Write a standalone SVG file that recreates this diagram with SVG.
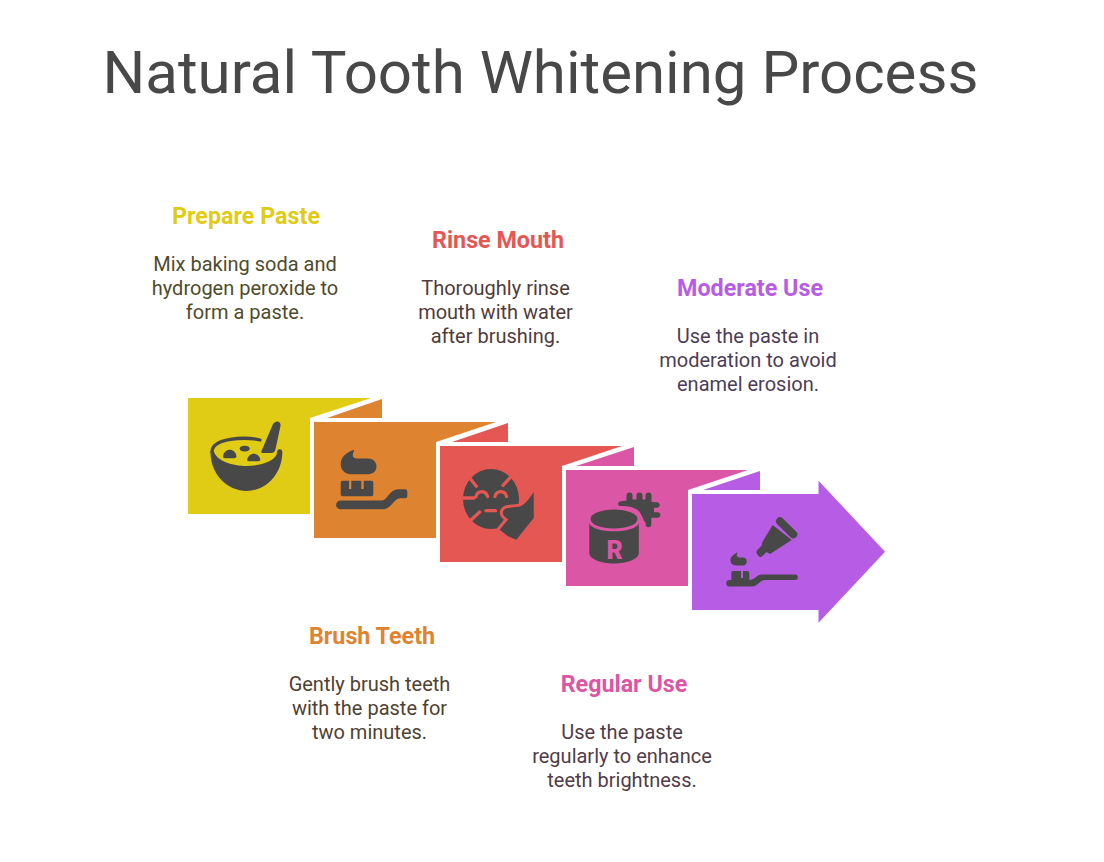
<svg xmlns="http://www.w3.org/2000/svg" width="1104" height="862" viewBox="0 0 1104 862">
<style>
text{font-family:Roboto,"Liberation Sans",sans-serif;text-anchor:middle}
.title{font-size:60px;fill:#484848;text-anchor:start}
.h{font-size:23.3px;font-weight:700}
.d{font-size:20px}
.i{fill:#484848}
.yf{fill:#e0cb15}.of{fill:#de8431}.rf{fill:#e55753}.pf{fill:#db56a5}.vf{fill:#b75ce5}
.rs{fill:none;stroke:#e55753;stroke-width:3.3;stroke-linecap:round}
</style>
<rect width="1104" height="862" fill="#ffffff"/>
<text class="title" x="102.5" y="93">Natural Tooth Whitening Process</text>
<g id="connectors"/>
<g id="step-prepare">
<polygon class="yf" points="188,398 371,398 310,418 310,514 188,514"/>
<g class="i">
<path d="M210.5,452C211,450 213,450 214.5,453C218,461 232,466 246.7,466C261,466 274,461 276.7,454.3C277,451 277.5,449.5 279,449.3C281,449 282.3,450 282.3,452C282.3,475 265,491 246.7,491C228,491 210.5,475 210.5,452Z"/>
<path d="M260,440C245,436.5 212,438 212,452" fill="none" stroke="#484848" stroke-width="3.3" stroke-linecap="round"/>
<path d="M261.5,451L273,424Q275,421 278,421.5Q281,422.5 280.5,426L275.3,450Q274.5,453 271,453L263,453Q260.5,453 261.5,451Z"/>
<path d="M223,456.5C223.5,452 226.5,449.7 229.7,449.7C233,449.7 236,452 236.4,456.5Q236.5,458.3 234,458.3L225,458.3Q223,458.3 223,456.5Z"/>
<ellipse cx="244.7" cy="448.6" rx="5" ry="2.9"/>
<path d="M247.3,459.5C248,456 250.5,453.7 253.8,453.7C257,453.7 259.7,456 260.3,459.5Q260.5,461.3 258.5,461.3L249,461.3Q247,461.3 247.3,459.5Z"/>
</g>
</g>
<g id="step-brush">
<polygon class="of" points="327,418 382,399 382,418"/>
<polygon class="of" points="314,422 496,422 436,442 436,538 314,538"/>
<g class="i">
<path d="M353.7,449.7C348,452 340.7,456 340.7,464C340.7,471 346,474.3 352,474.3L368,474.3C374,474.3 376.5,470 376.5,466.5C376.5,462 373,458.5 368,458.5L358,458.5C353,458.5 351.5,456 354,451Z"/>
<path d="M342.7,480.7L349,480.7L349,489L351.3,489L351.3,480.7L361.3,480.7L361.3,489L363.7,489L363.7,480.7L371.5,480.7Q373.3,480.7 373.3,482.5L373.3,494.5Q373.3,496.3 371.5,496.3L342.7,496.3Q340.7,496.3 340.7,494.5L340.7,482.5Q340.7,480.7 342.7,480.7Z"/>
<path d="M340.5,500.5L382,500.5C387,500.5 390,489.3 398,489.3L405,489.3Q407.3,489.3 407.3,491L407.3,496.5Q407.3,498.3 405,498.3L400,498.3C394,498.3 391,509.3 383,509.3L340.5,509.3A4.4,4.4 0 0 1 340.5,500.5Z"/>
</g>
</g>
<g id="step-rinse">
<polygon class="rf" points="452,442 508,423 508,442"/>
<polygon class="rf" points="440,446 622,446 562,466 562,562 440,562"/>
<ellipse class="i" cx="491" cy="499" rx="28" ry="30"/>
<path class="rs" d="M469.7,478L476.3,486.3M511.3,476.3L503,485.3M463,498L474,498M471.3,519.7L479.7,512M486,510.7L495.6,510.7M476,496.5C477.5,490 486,490 487.5,496.5M495,496.5C496.5,490 505,490 506.5,496.5"/>
<path class="i" d="M503,511.5C504,509 506,508.3 508,508C513,507.3 518,507 521.3,506C526,503 530,498 533.7,492L533.7,518L516.3,539.7L508,536.3L499.7,529.7L508.5,519C505,518 502,514.5 503,511.5Z" stroke="#e55753" stroke-width="6" stroke-linejoin="round" paint-order="stroke"/>
</g>
<g id="step-regular">
<polygon class="pf" points="576,466 634,447 634,466"/>
<polygon class="pf" points="566,470 748,470 688,490 688,586 566,586"/>
<g class="i">
<path d="M619.5,501.5L626.5,500.5L626.5,495.5A3,3 0 0 1 632.5,495.5L632.5,499.5L636.5,499.5L636.5,495.5A3,3 0 0 1 642.5,495.5L642.5,499.5L645.5,499.5L645.5,495.5A3,3 0 0 1 651.5,495.5L651.5,502L657.5,502.3A2.8,2.8 0 0 1 657.5,507.8L654,507.8L654,512.2L657.5,512.2A2.8,2.8 0 0 1 657.5,517.8L651.3,517.8L651.3,524.5A2.8,2.8 0 0 1 645.7,524.5L645.5,522.5C643.5,521.5 643,517 640,512.5C636,507 628,505.5 619.5,506Q616.5,503.5 619.5,501.5Z"/>
<ellipse cx="614" cy="519" rx="23.5" ry="9.5"/>
<path d="M589.3,523.3C593,534 635,534 638.8,523.3L638.8,553C638.8,559 627,563.5 614,563.5C601,563.5 589.3,559 589.3,553Z"/>
</g>
<text x="614.7" y="559.3" style="font-size:25px;font-weight:900" fill="#db56a5">R</text>
</g>
<g id="step-moderate">
<polygon class="vf" points="703,490 760,471 760,490"/>
<polygon class="vf" points="692,494 818.5,494 818.5,480.7 885,551.7 818.5,622.7 818.5,610 692,610"/>
<g class="i">
<path d="M780,521.3L793.3,534.3" fill="none" stroke="#484848" stroke-width="8" stroke-linecap="round"/>
<path d="M772.7,525L791.7,540L770,554L766.5,552L762.5,556Q760,558 758,555.5L756.8,553.5Q755.8,551.5 757.5,549.8L761.7,545.5L762.5,541.7Z"/>
<path d="M737,552.5C733,555 730,557 730.5,561C731,564.5 734,565.5 737,565.5L743,565.5C748,565.5 748,557.5 743,557.5L739.5,557.5C737,557.5 736,555 737.5,553Z"/>
<path d="M733,571L741,571L741,578L743,578L743,571L747,571Q749.3,571 749.3,573L749.3,581L731.3,581L731.3,573Q731.3,571 733,571Z"/>
<path d="M729.5,580L750,580C755,579.5 757,574.5 762,574.5L795,574.5A2.75,2.75 0 0 1 795,580L765,580C760,580 758,586.5 752,586.5L729.5,586.5A3.25,3.25 0 0 1 729.5,580Z"/>
</g>
</g>
<g id="label-prepare">
<text class="h" x="246" y="224" fill="#e0cb15">Prepare Paste</text>
<g class="d" fill="#4e4c2c"><text x="245" y="271">Mix baking soda and</text><text x="245" y="295">hydrogen peroxide to</text><text x="245" y="319">form a paste.</text></g>
</g>
<g id="label-rinse">
<text class="h" x="498" y="248" fill="#e55753">Rinse Mouth</text>
<g class="d" fill="#503c3b"><text x="495.5" y="295">Thoroughly rinse</text><text x="495.5" y="319">mouth with water</text><text x="495.5" y="343">after brushing.</text></g>
</g>
<g id="label-moderate">
<text class="h" x="750" y="296" fill="#b75ce5">Moderate Use</text>
<g class="d" fill="#4c3d57"><text x="748" y="343">Use the paste in</text><text x="748" y="367">moderation to avoid</text><text x="748" y="391">enamel erosion.</text></g>
</g>
<g id="label-brush">
<text class="h" x="372" y="644" fill="#de8431">Brush Teeth</text>
<g class="d" fill="#4f4231"><text x="369.5" y="691">Gently brush teeth</text><text x="369.5" y="715">with the paste for</text><text x="369.5" y="739">two minutes.</text></g>
</g>
<g id="label-regular">
<text class="h" x="624" y="692" fill="#db56a5">Regular Use</text>
<g class="d" fill="#503c49"><text x="622" y="739">Use the paste</text><text x="622" y="763">regularly to enhance</text><text x="622" y="787">teeth brightness.</text></g>
</g>
</svg>
